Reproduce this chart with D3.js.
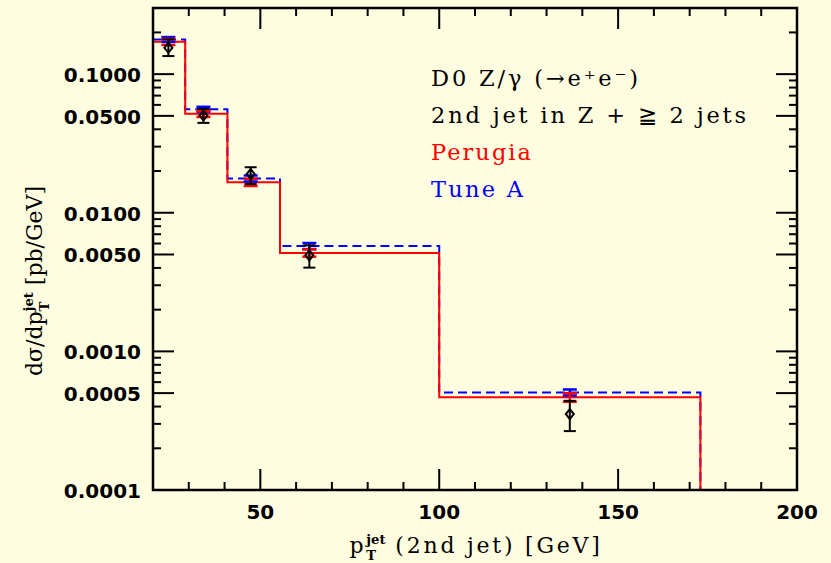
<!DOCTYPE html>
<html>
<head>
<meta charset="utf-8">
<script src="https://cdn.jsdelivr.net/npm/d3@7/dist/d3.min.js"></script>
<style>
  html, body { margin: 0; padding: 0; background: #fffde0; }
  svg { display: block; }
</style>
</head>
<body>
<svg id="chart" width="831" height="563"></svg>
<script>
// ── Data ────────────────────────────────────────────────────────────────────
const binEdges   = [20, 29, 40.8, 55.5, 100, 173];
const perugia    = [0.171, 0.0517, 0.0166, 0.00513, 0.000466];
const tuneA      = [0.178, 0.0559, 0.0177, 0.00576, 0.000506];
const perugiaErr = [0.05, 0.05, 0.06, 0.06, 0.07];   // relative MC stat errors
const tuneAErr   = [0.04, 0.04, 0.05, 0.05, 0.05];

const dataX    = [24.3, 34.1, 47.3, 63.7, 136.5];
const dataY    = [0.155, 0.0503, 0.0190, 0.00493, 0.000353];
const dataLow  = [0.135, 0.0445, 0.0161, 0.00402, 0.000266];
const dataHigh = [0.178, 0.0561, 0.0213, 0.00582, 0.00044];

const yTickVals   = [0.1, 0.05, 0.01, 0.005, 0.001, 0.0005, 0.0001];
const yTickLabels = ['0.1000', '0.0500', '0.0100', '0.0050', '0.0010', '0.0005', '0.0001'];
const xTickVals   = [50, 100, 150, 200];

const legendLines = ['D0 Z/γ (→e⁺e⁻)', '2nd jet in Z + ≧ 2 jets', 'Perugia', 'Tune A'];
const legendColors = ['#000', '#000', '#ff0000', '#0000ff'];
const legendWidths = [207, 315, 100, 92];

// ── Scales ──────────────────────────────────────────────────────────────────
const L = 153, R = 797, T = 8, B = 490;
const x = d3.scaleLinear().domain([20, 200]).range([L, R]);
const y = d3.scaleLog().domain([1e-4, 0.3]).range([B, T]);

const svg = d3.select('#chart');
svg.append('rect').attr('width', 831).attr('height', 563).attr('fill', '#fffde0');

// ── Ticks (inward, all four sides) ─────────────────────────────────────────
const axes = svg.append('g').attr('stroke', '#000').attr('stroke-width', 2);
const xMinor = d3.range(30, 200, 10);
xMinor.forEach(v => {
  const len = v % 50 === 0 ? 21 : 8;
  axes.append('line').attr('x1', x(v)).attr('x2', x(v)).attr('y1', B).attr('y2', B - len);
  axes.append('line').attr('x1', x(v)).attr('x2', x(v)).attr('y1', T).attr('y2', T + len);
});
const yTicksAll = [];
for (let e = -4; e <= -1; e++) {
  for (let m = 1; m <= 9; m++) {
    const v = m * Math.pow(10, e);
    if (v > 1e-4 && v < 0.3) yTicksAll.push({ v, major: m === 1 || m === 5 });
  }
}
yTicksAll.forEach(t => {
  const len = t.major ? 21 : 8;
  axes.append('line').attr('x1', L).attr('x2', L + len).attr('y1', y(t.v)).attr('y2', y(t.v));
  axes.append('line').attr('x1', R).attr('x2', R - len).attr('y1', y(t.v)).attr('y2', y(t.v));
});

// ── Tick labels ────────────────────────────────────────────────────────────
const tickFont = "'DejaVu Sans', sans-serif";
svg.append('g').selectAll('text').data(yTickVals).join('text')
  .attr('x', 141).attr('y', d => y(d) + 8)
  .attr('text-anchor', 'end')
  .attr('font-family', tickFont).attr('font-weight', 'bold').attr('font-size', 20)
  .text((d, i) => yTickLabels[i]);
svg.append('g').selectAll('text').data(xTickVals).join('text')
  .attr('x', d => x(d)).attr('y', 519)
  .attr('text-anchor', 'middle')
  .attr('font-family', tickFont).attr('font-weight', 'bold').attr('font-size', 20)
  .text(d => d);

// ── Histograms ─────────────────────────────────────────────────────────────
function stepPoints(vals) {
  const pts = [];
  vals.forEach((v, i) => {
    pts.push([binEdges[i], v]);
    pts.push([binEdges[i + 1], v]);
  });
  pts.push([binEdges[binEdges.length - 1], 1e-4]);
  return pts;
}
const line = d3.line().x(d => x(d[0])).y(d => y(d[1]));

svg.append('path').datum(stepPoints(tuneA)).attr('d', line)
  .attr('fill', 'none').attr('stroke', '#0000ff').attr('stroke-width', 2)
  .attr('stroke-dasharray', '9,5');
svg.append('path').datum(stepPoints(perugia)).attr('d', line)
  .attr('fill', 'none').attr('stroke', '#ff0000').attr('stroke-width', 2);

// MC error bars at the data x positions
function mcErrors(vals, errs, color) {
  const g = svg.append('g').attr('stroke', color).attr('stroke-width', 2.5);
  vals.forEach((v, i) => {
    const cx = x(dataX[i]);
    const lo = y(v * (1 - errs[i])), hi = y(v * (1 + errs[i]));
    g.append('line').attr('x1', cx).attr('x2', cx).attr('y1', lo).attr('y2', hi);
    g.append('line').attr('x1', cx - 7).attr('x2', cx + 7).attr('y1', lo).attr('y2', lo);
    g.append('line').attr('x1', cx - 7).attr('x2', cx + 7).attr('y1', hi).attr('y2', hi);
  });
}
mcErrors(tuneA, tuneAErr, '#0000ff');
mcErrors(perugia, perugiaErr, '#ff0000');

// ── Data points ────────────────────────────────────────────────────────────
const pts = svg.append('g').attr('stroke', '#000').attr('stroke-width', 2).attr('fill', 'none');
dataY.forEach((v, i) => {
  const cx = x(dataX[i]), cy = y(v);
  const lo = y(dataLow[i]), hi = y(dataHigh[i]);
  pts.append('line').attr('x1', cx).attr('x2', cx).attr('y1', lo).attr('y2', hi);
  pts.append('line').attr('x1', cx - 6).attr('x2', cx + 6).attr('y1', lo).attr('y2', lo);
  pts.append('line').attr('x1', cx - 6).attr('x2', cx + 6).attr('y1', hi).attr('y2', hi);
  pts.append('path')
    .attr('d', `M${cx},${cy - 5}L${cx + 4},${cy}L${cx},${cy + 5}L${cx - 4},${cy}Z`);
});

// ── Frame ──────────────────────────────────────────────────────────────────
svg.append('rect').attr('x', L).attr('y', T).attr('width', R - L).attr('height', B - T)
  .attr('fill', 'none').attr('stroke', '#000').attr('stroke-width', 2.5);

// ── Legend text ────────────────────────────────────────────────────────────
const legFont = "'DejaVu Serif', serif";
const leg = svg.append('g').attr('font-family', legFont).attr('font-size', 22.5);
legendLines.forEach((s, i) => {
  leg.append('text').attr('x', 431).attr('y', 86 + i * 37)
    .attr('fill', legendColors[i])
    .attr('textLength', legendWidths[i]).attr('lengthAdjust', 'spacing')
    .text(s);
});

// ── Axis titles (with stacked sup/sub) ─────────────────────────────────────
function stackedLabel(g, pre, sup, sub, post, size, target) {
  const t = g.append('text').attr('font-family', legFont).attr('font-size', size).attr('fill', '#000');
  const p0 = t.append('tspan').text(pre);
  const s1 = t.append('tspan').attr('font-size', size * 0.6).attr('font-weight', 'bold')
    .attr('dy', -size * 0.42).text(sup);
  const w1 = s1.node().getComputedTextLength();
  const s2 = t.append('tspan').attr('font-size', size * 0.6).attr('font-weight', 'bold')
    .attr('dx', -w1).attr('dy', size * 0.72).text(sub);
  const w2 = s2.node().getComputedTextLength();
  const p1 = t.append('tspan').attr('dx', Math.max(0, w1 - w2)).attr('dy', -size * 0.30).text(post);
  // widen the spacing of the normal-size parts to reach the target width
  const natural = t.node().getBBox().width;
  const n = (pre + post).length;
  const ls = Math.max(0, (target - natural) / n);
  p0.attr('letter-spacing', ls);
  p1.attr('letter-spacing', ls);
  return t;
}
const xt = stackedLabel(svg.append('g'), 'p', 'jet', 'T', ' (2nd jet) [GeV]', 22, 253);
const xw = xt.node().getBBox().width;
xt.select('tspan').attr('x', 476 - xw / 2).attr('y', 553);

const yg = svg.append('g').attr('transform', 'translate(42,281) rotate(-90)');
const yt = stackedLabel(yg, 'dσ/dp', 'jet', 'T', ' [pb/GeV]', 22, 182);
const yw = yt.node().getBBox().width;
yt.select('tspan').attr('x', -yw / 2).attr('y', 0);
</script>
</body>
</html>
